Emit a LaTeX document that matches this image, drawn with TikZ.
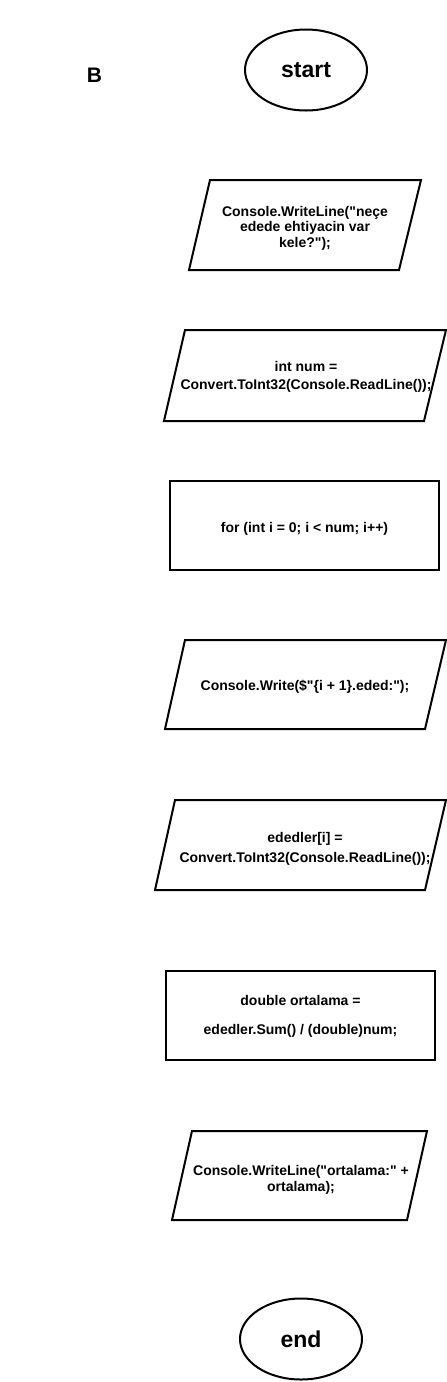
\documentclass[tikz,border=0pt]{standalone}
\usepackage{fontspec}
\setmainfont{Liberation Sans}[Ligatures=TeXOff]
\usetikzlibrary{shapes.geometric}

\begin{document}
\begin{tikzpicture}[x=1pt,y=-1pt,
	box/.style={draw, line width=2pt, rectangle, minimum width=269pt, minimum height=89pt, inner sep=0pt},
	term/.style={draw, line width=2pt, ellipse, minimum width=122pt, minimum height=81pt, inner sep=0pt, font=\fontsize{23}{27}\selectfont\bfseries},
	txt/.style={align=center, inner sep=0pt, font=\fontsize{14}{15.5}\selectfont\bfseries},
	io/.style={line width=2pt, line join=miter}]
\useasboundingbox (0,0) rectangle (447,1382);

%Titel + Start
	\node[font=\fontsize{21}{25}\selectfont\bfseries] (title) at (94.5,75) {B};
	\node[term] (start) at (306,70) {start};

%Ausgabe
	\draw[io] (210,180)--(421,180)--(399,270)--(189,270)--cycle;
	\node[txt] (ask) at (305,228) {Console.WriteLine("neçe\\edede ehtiyacin var\\kele?");};

%Eingabe num
	\draw[io] (185,330)--(446,330)--(424,421)--(164,421)--cycle;
	\node[txt] (readnum) at (306,377) {int num =\\[3pt]Convert.ToInt32(Console.ReadLine());};

%Schleife
	\node[box] (loop) at (304.5,525) {};
	\node[txt] (looptxt) at (304.5,529) {for (int i = 0; i < num; i++)};

%Ausgabe Index
	\draw[io] (185,640)--(446,640)--(425,729)--(165,729)--cycle;
	\node[txt] (askidx) at (305,687) {Console.Write(\$"\{i + 1\}.eded:");};

%Eingabe Array
	\draw[io] (175,800)--(446,800)--(425,890)--(155,890)--cycle;
	\node[txt] (readarr) at (305,849) {ededler[i] =\\[4.5pt]Convert.ToInt32(Console.ReadLine());};

%Mittelwert
	\node[box] (avg) at (300.5,1015.5) {};
	\node[txt] (avgtxt) at (300.5,1016) {double ortalama =\\[13.5pt]ededler.Sum() / (double)num;};

%Ausgabe Mittelwert
	\draw[io] (192,1131)--(427,1131)--(407,1220)--(172,1220)--cycle;
	\node[txt] (print) at (301,1180) {Console.WriteLine("ortalama:" +\\[0.5pt]ortalama);};

%Ende
	\node[term] (end) at (301,1339) {end};
\end{tikzpicture}
\end{document}
